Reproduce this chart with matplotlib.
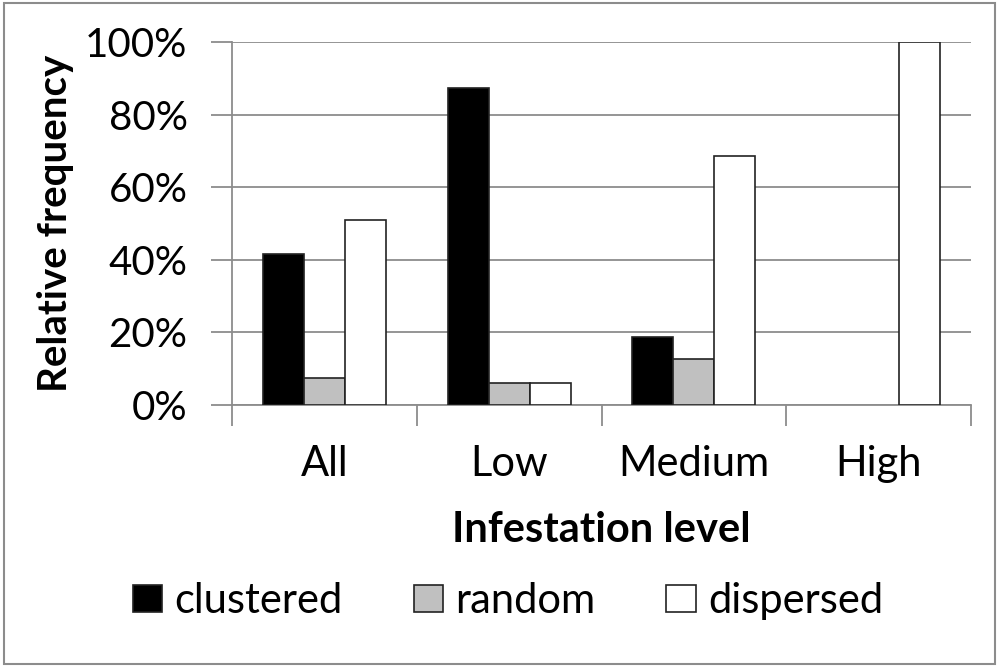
import matplotlib
matplotlib.use("Agg")
import matplotlib.pyplot as plt
import numpy as np
from matplotlib.patches import Rectangle
from matplotlib.ticker import FixedLocator, PercentFormatter

categories = ["All", "Low", "Medium", "High"]
clustered = [41.5, 87.4, 18.6, 0.0]
random_ = [7.4, 6.1, 12.6, 0.0]
dispersed = [51.1, 6.1, 68.7, 100.0]
series_names = ["clustered", "random", "dispersed"]
series_colors = ["#000000", "#c0c0c0", "#ffffff"]
yticks = [0, 20, 40, 60, 80, 100]

plt.rcParams['font.family'] = ['Lato', 'DejaVu Sans']

fig = plt.figure(figsize=(10, 6.67), dpi=100)
ax = fig.add_axes([0.232, 1 - 405/667, 0.739, (405 - 42)/667])

x = np.arange(len(categories))
w = 1/4.5
for i, (vals, name, col) in enumerate(zip([clustered, random_, dispersed], series_names, series_colors)):
    lws = [1.2 if v > 0 else 0 for v in vals]
    ax.bar(x + (i - 1) * w, vals, width=w, color=col, edgecolor="#222222", linewidth=lws,
           label=name, zorder=3)

ax.set_xlim(-0.5, len(categories) - 0.5)
ax.set_ylim(0, 100)
ax.set_yticks(yticks)
ax.yaxis.set_major_formatter(PercentFormatter(decimals=0))
ax.grid(axis="y", color="#8c8c8c", linewidth=1.3, zorder=0)
ax.set_axisbelow(True)

ax.set_xticks(x)
ax.set_xticklabels(categories)
ax.xaxis.set_minor_locator(FixedLocator(np.arange(-0.5, len(categories), 1.0)))
ax.tick_params(axis="x", which="major", length=0, pad=29, labelsize=30)
ax.tick_params(axis="x", which="minor", length=15, width=1.3, color="#8c8c8c", direction="out")
ax.tick_params(axis="y", which="major", length=15, width=1.3, color="#8c8c8c", pad=17, labelsize=29)

for s in ["top", "right"]:
    ax.spines[s].set_visible(False)
for s in ["left", "bottom"]:
    ax.spines[s].set_color("#8c8c8c")
    ax.spines[s].set_linewidth(1.3)
ax.spines["left"].set_bounds(0, 100)

ax.set_xlabel("Infestation level", fontsize=30, fontweight="bold", labelpad=20)
ax.set_ylabel("Relative frequency", fontsize=29, fontweight="bold", labelpad=8)

fig.legend(loc="center", bbox_to_anchor=(0.508, 1 - 601/667), ncol=3, frameon=False,
           fontsize=30, handlelength=0.7, handleheight=0.6, handletextpad=0.3,
           columnspacing=1.7)

fig.patches.append(Rectangle((0.004, 0.005), 0.991, 0.99, transform=fig.transFigure,
                             fill=False, edgecolor="#8c8c8c", linewidth=1.5))

fig.savefig("out.png", dpi=100)
